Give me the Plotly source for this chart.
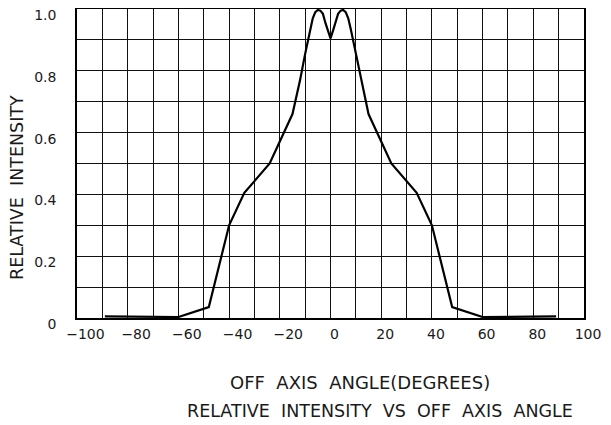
import plotly.graph_objects as go

# Off-axis angle (degrees) and relative intensity
angle = [-89, -60, -48, -40, -34, -24, -15, -12, -10, -8, -7, -6, -5, -4, -3, -2, -1, 0,
         1, 2, 3, 4, 5, 6, 7, 8, 10, 12, 15, 24, 34, 40, 48, 60, 89]
intensity = [0.005, 0.003, 0.035, 0.30, 0.405, 0.50, 0.66, 0.77, 0.855, 0.935, 0.97, 0.99, 0.997,
             0.995, 0.985, 0.955, 0.93, 0.905,
             0.93, 0.955, 0.985, 0.995, 0.997, 0.99, 0.97, 0.935, 0.855, 0.77, 0.66, 0.50, 0.405,
             0.30, 0.035, 0.003, 0.005]

x_ticks = [-100, -80, -60, -40, -20, 0, 20, 40, 60, 80, 100]
y_ticks = [0, 0.2, 0.4, 0.6, 0.8, 1.0]
y_tick_text = ["0", "0.2", "0.4", "0.6", "0.8", "1.0"]

x_title = "OFF  AXIS  ANGLE(DEGREES)"
y_title = "RELATIVE  INTENSITY"
chart_title = "RELATIVE  INTENSITY  VS  OFF  AXIS  ANGLE"

FONT = "DejaVu Sans, Liberation Sans, sans-serif"
TXT = "#1a1a1a"

# page body has an 8px default margin; the figure is sized/placed to compensate
OFF = 8
VW, VH = 611, 425
W, H = VW - OFF, VH - OFF
PL, PR, PT, PB = 77, 584, 9, 318        # desired plot box in viewport pixels
L, T = PL - OFF, PT - OFF
R, B = W - (PR - OFF), H - (PB - OFF)
PW, PH = W - L - R, H - T - B


def px_to_paper(px, py):
    return (px - OFF - L) / PW, (H - B - (py - OFF)) / PH


# negative labels in the reference sit a little right of their tick (minus sign hangs left)
NB = "\u00a0"
x_tick_text = [(NB * 2 + "\u2212" + str(abs(v))) if v < 0 else str(v) for v in x_ticks]

fig = go.Figure()
fig.add_trace(go.Scatter(x=angle, y=intensity, mode="lines",
                         line=dict(color="black", width=2.2),
                         hoverinfo="skip", showlegend=False))

grid = dict(showgrid=True, gridcolor="#111", gridwidth=1)
fig.update_layout(
    width=W, height=H,
    margin=dict(l=L, r=R, t=T, b=B, autoexpand=False),
    paper_bgcolor="white", plot_bgcolor="white",
    font=dict(family=FONT, color=TXT, size=14),
    xaxis=dict(range=[-100, 100], tickvals=x_ticks, ticktext=x_tick_text, **grid,
               automargin=False, showline=True, linecolor="black", linewidth=1.5,
               mirror=True, zeroline=False, ticks="", ticklabelstandoff=2, tickangle=0,
               ticklabelshift=4, ticklabeloverflow="allow",
               tickfont=dict(size=14, color=TXT),
               minor=dict(dtick=10, tick0=0, **grid)),
    yaxis=dict(range=[-0.0002, 1.0002], tickvals=y_ticks, ticktext=y_tick_text, **grid,
               automargin=False, showline=True, linecolor="black", linewidth=1.5,
               mirror=True, zeroline=False, ticks="", ticklabelstandoff=16, ticklabelshift=6,
               ticklabeloverflow="allow",
               tickfont=dict(size=14, color=TXT),
               minor=dict(dtick=0.1, tick0=0, **grid)),
)

annots = [
    (y_title, 17, 188, -90, 17.5),
    (x_title, 360, 382, 0, 18),
    (chart_title, 380, 411, 0, 17.5),
]
for text, px, py, ang, fs in annots:
    xp, yp = px_to_paper(px, py)
    fig.add_annotation(text=text, x=xp, y=yp, xref="paper", yref="paper", showarrow=False,
                       textangle=ang, xanchor="center", yanchor="middle",
                       font=dict(size=fs, color=TXT, family=FONT))

fig.write_html("out.html")
